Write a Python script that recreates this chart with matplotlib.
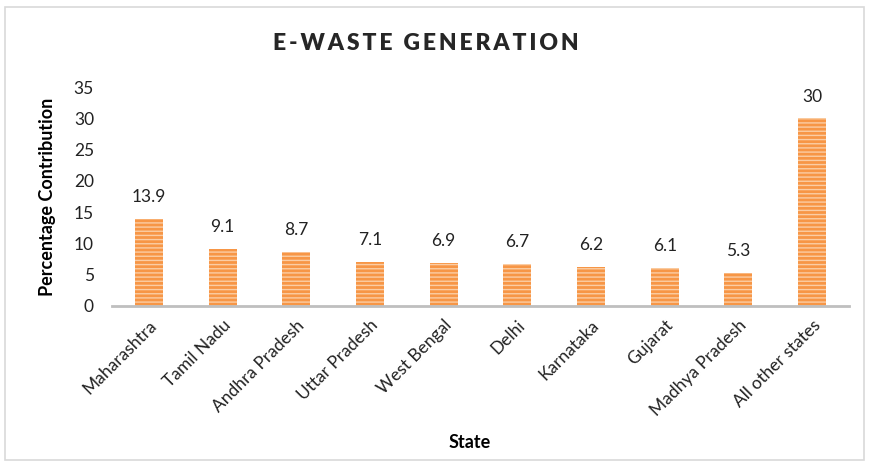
import matplotlib
matplotlib.use("Agg")
import matplotlib.pyplot as plt
import matplotlib.patches as mpatches
import numpy as np

plt.rcParams["font.family"] = ["Lato", "DejaVu Sans"]
plt.rcParams["hatch.linewidth"] = 1.0

states = ["Maharashtra", "Tamil Nadu", "Andhra Pradesh", "Uttar Pradesh", "West Bengal",
          "Delhi", "Karnataka", "Gujarat", "Madhya Pradesh", "All other states"]
share = [13.9, 9.1, 8.7, 7.1, 6.9, 6.7, 6.2, 6.1, 5.3, 30]
yticks = [0, 5, 10, 15, 20, 25, 30, 35]

BAR = "#F79646"
STRIPE = "#FBCDA4"

fig = plt.figure(figsize=(8.69, 4.66), dpi=100)
ax = fig.add_axes([0.1289, 0.3435, 0.848, 0.4698])

x = np.arange(len(states))
bars = ax.bar(x, share, width=0.38, color=BAR, edgecolor=STRIPE, linewidth=0,
              hatch="----")
for b, v in zip(bars, share):
    ax.text(b.get_x() + b.get_width() / 2, v + 2.2, f"{v:g}", ha="center", va="bottom",
            fontsize=12.5, color="#222222")

ax.set_xlim(-0.5, len(states) - 0.5)
ax.set_ylim(0, 35)
ax.set_yticks(yticks)
ax.set_xticks(x)
ax.set_xticklabels(states, rotation=45, ha="right", rotation_mode="anchor", fontsize=12.5)
ax.tick_params(axis="both", length=0, labelsize=12.5, colors="#222222")
ax.tick_params(axis="x", pad=8)
ax.tick_params(axis="y", pad=13)

for s in ["top", "right", "left"]:
    ax.spines[s].set_visible(False)
ax.spines["bottom"].set_color("#BFBFBF")
ax.spines["bottom"].set_linewidth(2)

ax.set_ylabel("Percentage Contribution", fontsize=13, fontweight="bold", labelpad=13)
fig.text(0.54, 0.032, "State", ha="center", va="bottom", fontsize=13, fontweight="bold")
title = "\u2009".join("E-WASTE GENERATION")
fig.text(0.49, 0.885, title, ha="center", va="bottom", fontsize=16.5,
         fontweight="heavy", color="#262626")

# light frame around the chart
fig.patches.append(mpatches.Rectangle((0.006, 0.012), 0.988, 0.972, transform=fig.transFigure,
                                      fill=False, edgecolor="#D9D9D9", linewidth=1.2))

plt.savefig("out.png", dpi=100, facecolor="white")
plt.close()
